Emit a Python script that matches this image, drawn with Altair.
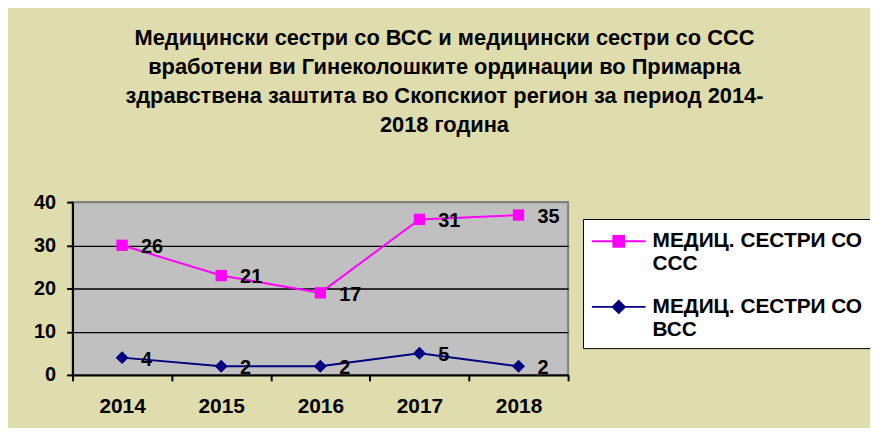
import altair as alt
import pandas as pd

years = ["2014", "2015", "2016", "2017", "2018"]
ccc_values = [26, 21, 17, 31, 35]
vcc_values = [4, 2, 2, 5, 2]
series_ccc = "МЕДИЦ. СЕСТРИ СО ССС"
series_vcc = "МЕДИЦ. СЕСТРИ СО ВСС"
series_order = [series_ccc, series_vcc]
series_colors = ["#ff00ff", "#000080"]
title_lines = [
    "Медицински сестри со ВСС и медицински сестри со ССС",
    "вработени ви Гинеколошките ординации во Примарна",
    "здравствена заштита во Скопскиот регион за период 2014-",
    "2018 година",
]

rows = []
for i, y in enumerate(years):
    rows.append({"year": y, "series": series_vcc, "value": vcc_values[i], "stack_order": 0})
    rows.append({"year": y, "series": series_ccc, "value": ccc_values[i], "stack_order": 1})
df = pd.DataFrame(rows)

FONT = "Liberation Sans"
W, H = 499, 174
TOTAL_W, TOTAL_H = 868, 420
PAD_L, PAD_T = 65, 194

# legend symbols: line segment with marker (custom SVG paths); the path runs
# from -1 to 3 so the small layout size keeps the entry compact
path_square = "M-1,0H3M0.6,-0.4H1.4V0.4H0.6Z"
path_diamond = "M-1,0H3M0.55,0L1,-0.45L1.45,0L1,0.45Z"

base = alt.Chart(df).transform_window(
    pos="sum(value)", groupby=["year"], sort=[alt.SortField("stack_order", order="ascending")],
    frame=[None, 0]
).encode(
    x=alt.X("year:N", sort=years, bandPosition=0.5,
            scale=alt.Scale(type="band", paddingInner=0, paddingOuter=0),
            axis=alt.Axis(title=None, labelAngle=0, labelFont=FONT, labelFontSize=21,
                          labelFontWeight="bold", labelColor="black", tickBand="extent",
                          tickSize=6, tickColor="black", tickWidth=2, domainColor="black",
                          domainWidth=2, labelPadding=15, grid=False)),
    y=alt.Y("pos:Q", scale=alt.Scale(domain=[0, 40], nice=False, zero=True),
            axis=alt.Axis(title=None, values=[0, 10, 20, 30, 40], labelFont=FONT,
                          labelFontSize=20, labelFontWeight="bold", labelColor="black",
                          tickSize=6, tickColor="black", tickWidth=2, domainColor="black",
                          domainWidth=2, labelPadding=11, grid=True,
                          gridColor={"condition": {"test": "datum.value >= 40", "value": "#808080"},
                                     "value": "black"},
                          gridWidth=1.3)),
)

color_scale = alt.Scale(domain=series_order, range=series_colors)

legend_layer = base.mark_point(filled=True, size=1, opacity=1).encode(
    fill=alt.Fill("series:N", scale=color_scale,
                  legend=alt.Legend(title=None, orient="none", legendX=514, legendY=17,
                                    symbolSize=729, symbolStrokeWidth=2,
                                    labelFont=FONT, labelFontSize=21, labelFontWeight="bold",
                                    labelColor="black", labelLimit=400, labelOffset=33,
                                    labelExpr="[substring(datum.label, 0, lastindexof(datum.label, ' ')), substring(datum.label, lastindexof(datum.label, ' ') + 1)]",
                                    fillColor="white", strokeColor="black", padding=8,
                                    rowPadding=18, symbolOpacity=1)),
    stroke=alt.Stroke("series:N", scale=color_scale),
    shape=alt.Shape("series:N", scale=alt.Scale(domain=series_order,
                                                range=[path_square, path_diamond])),
)

lines = base.mark_line(strokeWidth=2).encode(
    color=alt.Color("series:N", scale=color_scale, legend=None),
    detail="series:N",
)

pts_ccc = base.transform_filter(alt.datum.series == series_ccc).mark_point(
    shape="square", filled=True, size=130, opacity=1, color=series_colors[0])
pts_vcc = base.transform_filter(alt.datum.series == series_vcc).mark_point(
    shape="diamond", filled=True, size=170, opacity=1, color=series_colors[1])

labels = base.mark_text(align="left", baseline="middle", dx=19, dy=2, font=FONT,
                        fontSize=20, fontWeight="bold", color="black").encode(
    text="value:Q")

chart = alt.layer(legend_layer, lines, pts_ccc, pts_vcc, labels).properties(
    width=W, height=H,
    autosize=alt.AutoSizeParams(type="none"),
    padding={"left": PAD_L, "top": PAD_T, "right": TOTAL_W - PAD_L - W,
             "bottom": TOTAL_H - PAD_T - H},
    title=alt.TitleParams(text=title_lines, font=FONT, fontSize=22, fontWeight="bold",
                          color="black", lineHeight=29, anchor="middle", dx=125,
                          offset=56, frame="group"),
).configure(background="#dfddae").configure_view(
    fill="#c0c0c0", stroke="#808080", strokeWidth=2
)

chart.save("out.html", embed_options={"renderer": "svg", "actions": False})
